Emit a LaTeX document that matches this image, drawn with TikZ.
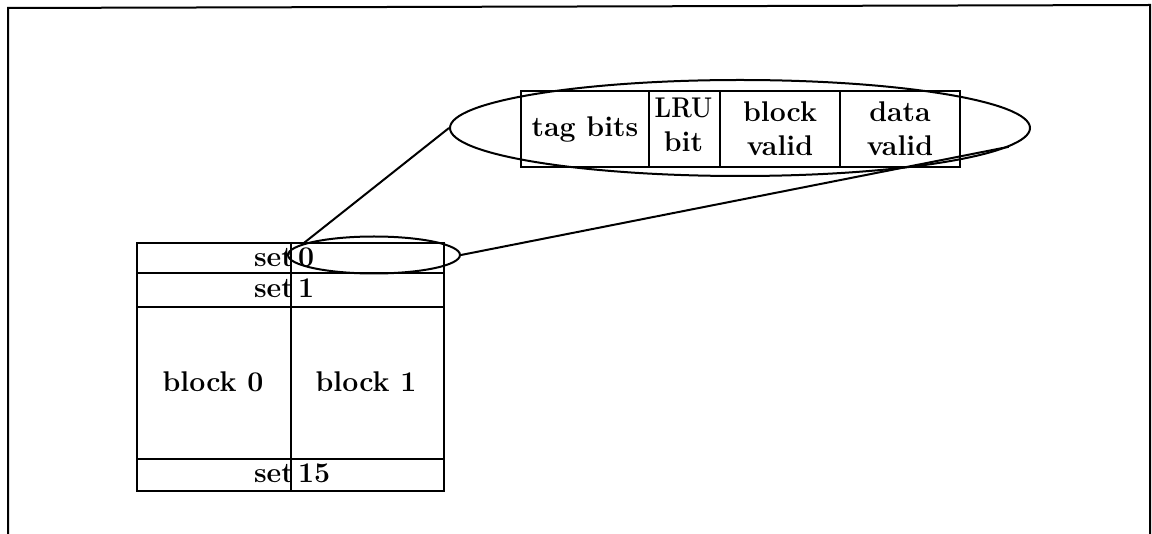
\documentclass[tikz,border=0pt]{standalone}
\usetikzlibrary{shapes.geometric}
\begin{document}
\begin{tikzpicture}[x=1pt,y=-1pt,
  every node/.style={font=\fontsize{28.5}{34}\selectfont\bfseries},
  ln/.style={line width=2pt},
  cell/.style={draw,ln,rectangle,anchor=north west,inner sep=0pt,align=center},
  ell/.style={draw,ln,ellipse,inner sep=0pt}]
\useasboundingbox (0,0) rectangle (1152,534);
% frame (open at bottom)
\draw[ln] (8,534) -- (8,8) -- (1150,5) -- (1150,534);
% table
\node[cell,minimum width=307pt,minimum height=30pt] (r0) at (136,242) {};
\node[cell,minimum width=307pt,minimum height=34pt] (r1) at (136,272) {};
\node[cell,minimum width=307pt,minimum height=152pt] (rb) at (136,306) {};
\node[cell,minimum width=307pt,minimum height=32pt] (r15) at (136,458) {};
\draw[ln] (r0.north west -| 291,0) coordinate (dt) -- (r15.south west -| 291,0) coordinate (db);
\node[anchor=base east,inner sep=0pt] (s0) at (294,267) {set};
\node[anchor=base west,inner sep=0pt] (n0) at (298,267) {0};
\node[anchor=base east,inner sep=0pt] (s1) at (294,298) {set};
\node[anchor=base west,inner sep=0pt] (n1) at (298,298) {1};
\node[anchor=base east,inner sep=0pt] (s15) at (294,483) {set};
\node[anchor=base west,inner sep=0pt] (n15) at (298,483) {15};
\node (b0) at (213,382) {block 0};
\node (b1) at (366,382) {block 1};
% ellipses
\node[ell,minimum width=172pt,minimum height=37pt] (se) at (374,255) {};
\node[ell,minimum width=580pt,minimum height=96pt] (be) at (740,128) {};
% inner entry box
\node[cell,minimum width=128pt,minimum height=76pt] (tag) at (520,90) {};
\node at (tag.center) {tag bits};
\node[cell,minimum width=71pt,minimum height=76pt] (lru) at (648,90) {};
\node[anchor=base,inner sep=0pt] (lrut) at (683.5,118) {\scalebox{0.86}[1]{LRU}};
\node[anchor=base,inner sep=0pt] (bitt) at (683.5,152) {bit};
\node[cell,minimum width=120pt,minimum height=76pt] (bv) at (719,90) {};
\node[align=center] at (bv.center) {block\\valid};
\node[cell,minimum width=120pt,minimum height=76pt] (dv) at (839,90) {};
\node[align=center] at (dv.center) {data\\valid};
% connectors
\draw[ln] (se.171) -- (be.180);
\draw[ln] (se.east) -- (be.-4);
\end{tikzpicture}
\end{document}
